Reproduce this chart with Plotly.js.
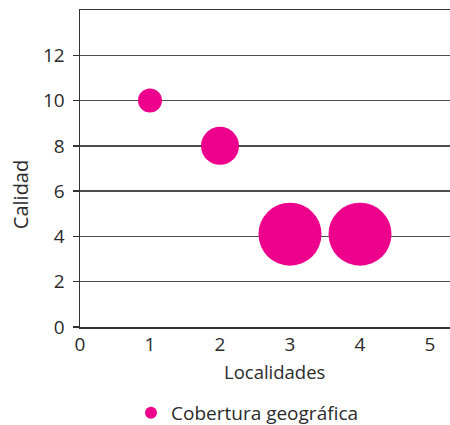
<!DOCTYPE html>
<html>
<head>
<meta charset="utf-8">
<script src="https://cdn.plot.ly/plotly-3.0.1.min.js"></script>
<style>
html, body { margin: 0; padding: 0; overflow: hidden; background: #fff; }
#chart { width: 468px; height: 425px; }
</style>
</head>
<body>
<div id="chart"></div>
<script>
const localidades = [1, 2, 3, 4];
const calidad = [10, 8, 4.1, 4.1];
const cobertura = [24, 38, 63, 63];
const seriesName = 'Cobertura geográfica';
const xTitle = 'Localidades';
const yTitle = 'Calidad';
const yTicks = [0, 2, 4, 6, 8, 10, 12];
const xTicks = [0, 1, 2, 3, 4, 5];

const textColor = '#2b2b2b';
const fontFamily = '"Open Sans", "Noto Sans", sans-serif';

const trace = {
  type: 'scatter',
  mode: 'markers',
  x: localidades,
  y: calidad,
  name: seriesName,
  showlegend: true,
  marker: {
    color: '#ec008c',
    opacity: 1,
    size: cobertura,
    sizemode: 'diameter',
    sizeref: 1,
    line: { width: 0 }
  },
  hoverinfo: 'none'
};

const layout = {
  width: 468,
  height: 425,
  margin: { l: 80, r: 0, t: 10, b: 98, autoexpand: false },
  paper_bgcolor: '#ffffff',
  plot_bgcolor: '#ffffff',
  font: { family: fontFamily, size: 19, color: textColor },
  showlegend: true,
  legend: {
    orientation: 'h',
    xref: 'container',
    yref: 'container',
    x: 131 / 468,
    xanchor: 'left',
    y: 12 / 425,
    yanchor: 'middle',
    itemsizing: 'constant',
    font: { family: fontFamily, size: 19, color: textColor },
    bgcolor: 'rgba(0,0,0,0)'
  },
  xaxis: {
    range: [0, 388 / 70],
    tickvals: xTicks,
    ticktext: xTicks.map(String),
    tickfont: { size: 19 },
    showgrid: false,
    zeroline: false,
    showline: true,
    linecolor: '#333333',
    linewidth: 1.5,
    mirror: true,
    ticks: '',
    ticklabelstandoff: 0,
    fixedrange: true
  },
  yaxis: {
    range: [0, 14],
    tickvals: yTicks,
    ticktext: yTicks.map(String),
    tickfont: { size: 19 },
    showgrid: true,
    gridcolor: '#4d4d4d',
    gridwidth: 1.5,
    zeroline: false,
    showline: true,
    linecolor: '#333333',
    linewidth: 1.5,
    ticks: 'outside',
    ticklen: 6,
    tickcolor: '#333333',
    tickwidth: 1.3,
    ticklabelstandoff: 4,
    fixedrange: true
  },
  annotations: [{
    text: yTitle,
    xref: 'paper',
    yref: 'paper',
    x: 0,
    xshift: -60,
    xanchor: 'center',
    y: (326.7 - 195) / 316.7,
    yanchor: 'middle',
    textangle: -90,
    showarrow: false,
    font: { family: fontFamily, size: 20, color: textColor }
  }, {
    text: xTitle,
    xref: 'paper',
    yref: 'paper',
    x: 0.5,
    xanchor: 'center',
    y: 0,
    yshift: -44,
    yanchor: 'middle',
    showarrow: false,
    font: { family: fontFamily, size: 18.5, color: textColor }
  }]
};

Plotly.newPlot('chart', [trace], layout, { displayModeBar: false, staticPlot: true });
</script>
</body>
</html>
